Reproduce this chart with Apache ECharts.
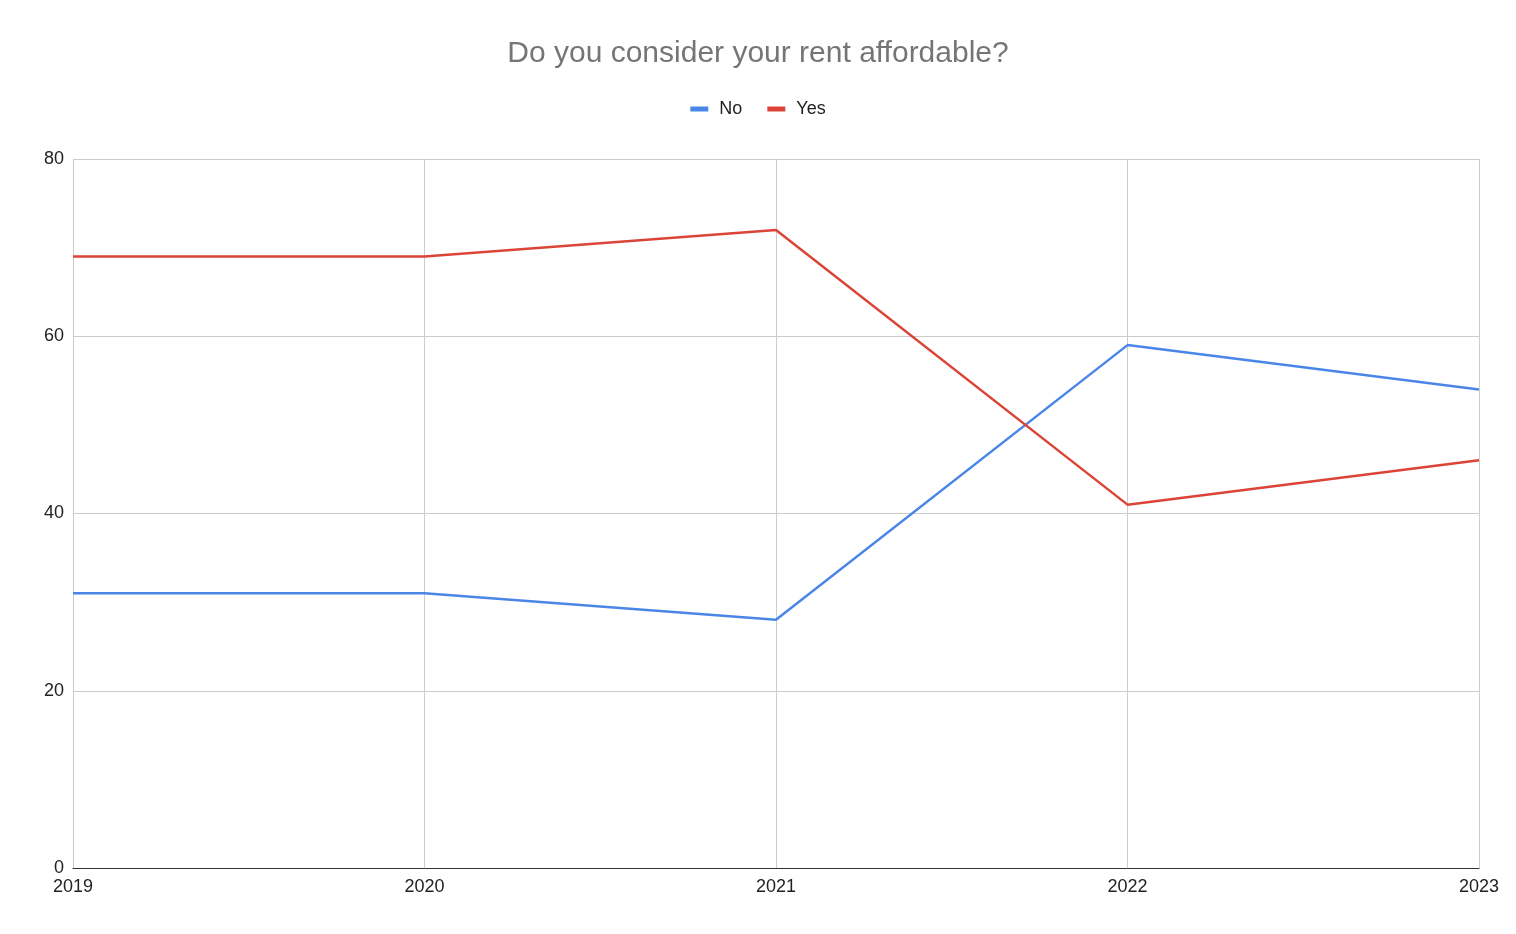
<!DOCTYPE html>
<html>
<head>
<meta charset="utf-8">
<script src="https://cdn.jsdelivr.net/npm/echarts@6/dist/echarts.min.js"></script>
<style>
html,body{margin:0;padding:0;background:#fff;}
#chart{width:1516px;height:934px;}
</style>
</head>
<body>
<div id="chart"></div>
<script>
const categories = ['2019', '2020', '2021', '2022', '2023'];
const noValues = [31, 31, 28, 59, 54];
const yesValues = [69, 69, 72, 41, 46];

const chart = echarts.init(document.getElementById('chart'));
const font = '"Liberation Sans", Arial, sans-serif';
chart.setOption({
  animation: false,
  backgroundColor: '#ffffff',
  title: {
    text: 'Do you consider your rent affordable?',
    left: 'center',
    top: 34,
    textStyle: { fontFamily: font, fontSize: 30, fontWeight: 'normal', color: '#757575' }
  },
  legend: {
    top: 95,
    left: 'center',
    itemWidth: 18,
    itemHeight: 5,
    itemGap: 25,
    icon: 'rect',
    textStyle: { fontFamily: font, fontSize: 18, color: '#222222', padding: [0, 0, 0, 6] },
    data: ['No', 'Yes']
  },
  grid: { left: 73, right: 37, top: 159, bottom: 66, containLabel: false },
  xAxis: {
    type: 'category',
    data: categories,
    boundaryGap: false,
    axisLine: { lineStyle: { color: '#333333', width: 1 } },
    axisTick: { show: false },
    splitLine: { show: true, lineStyle: { color: '#cccccc', width: 1 } },
    axisLabel: { fontFamily: font, fontSize: 18, color: '#222222', margin: 10 }
  },
  yAxis: {
    type: 'value',
    min: 0,
    max: 80,
    interval: 20,
    axisLine: { show: false },
    axisTick: { show: false },
    splitLine: { lineStyle: { color: '#cccccc', width: 1 } },
    axisLabel: { fontFamily: font, fontSize: 18, color: '#222222', margin: 9 }
  },
  series: [
    {
      name: 'No', type: 'line', data: noValues,
      symbol: 'none', color: '#4a86e8',
      lineStyle: { width: 2.5, color: '#4a86e8' }
    },
    {
      name: 'Yes', type: 'line', data: yesValues,
      symbol: 'none', color: '#db4437',
      lineStyle: { width: 2.5, color: '#db4437' }
    }
  ]
});
</script>
</body>
</html>
